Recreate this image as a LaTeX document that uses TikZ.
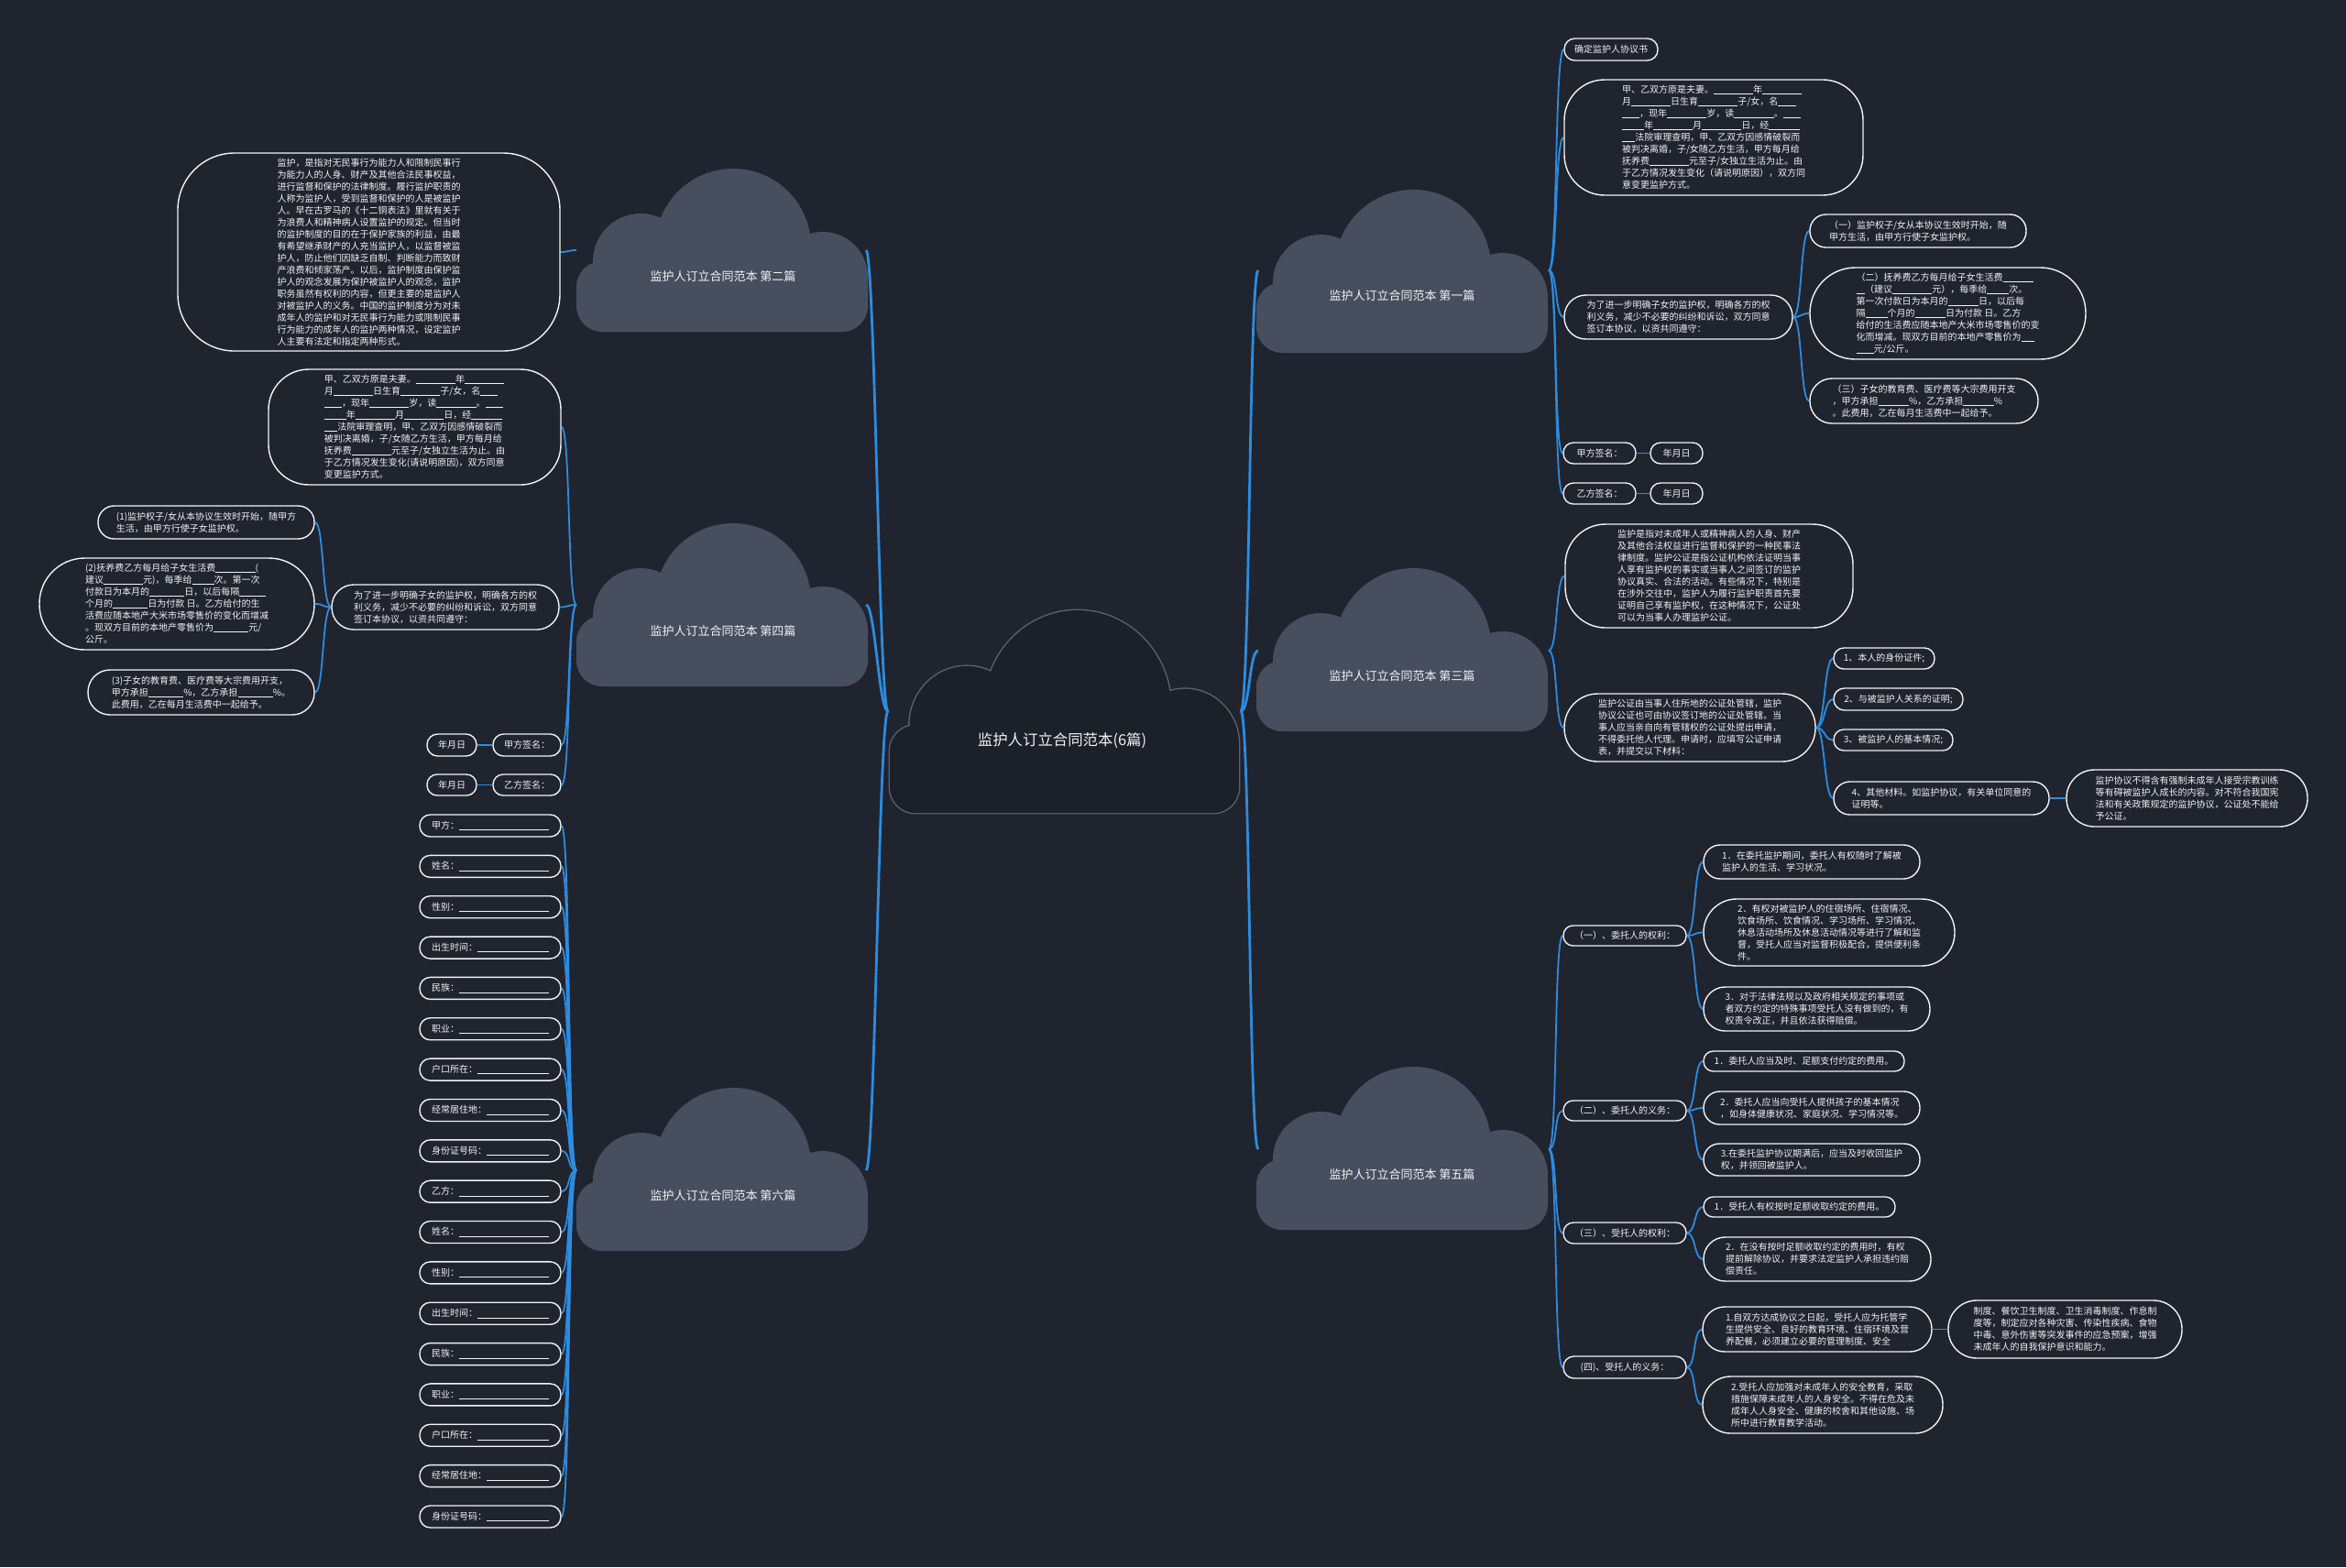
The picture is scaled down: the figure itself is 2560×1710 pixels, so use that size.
\documentclass[tikz,border=0pt]{standalone}
\usepackage{fontspec}
\setmainfont{Noto Sans CJK SC}
\usetikzlibrary{calc}
\definecolor{bgc}{HTML}{20242F}
\definecolor{cloudc}{HTML}{474F5F}
\definecolor{lnc}{HTML}{2C8CE0}
\definecolor{cout}{HTML}{5A6272}
\definecolor{cfill}{HTML}{1C2029}
\definecolor{txc}{HTML}{F2F2F2}
\pgfdeclarelayer{bgl}\pgfdeclarelayer{lnl}\pgfsetlayers{bgl,lnl,main}
\newcommand\ublank[1]{\rule[-0.12em]{\dimexpr0.48em*#1\relax}{0.07em}}
\newcommand\ufill{\leaders\hrule height -0.5pt depth 0.85pt\hfill\kern0pt}
\newcommand\fs{\fontsize{5}{6.5}\selectfont}
\newcommand\bnode[7][]{\node[bx,minimum width={(#5-#3)*0.5pt},minimum height={(#6-#4)*0.5pt},rounded corners={min((#6-#4)/2-0.5,62)*0.5pt},#1] (#2) at ({(#3+#5)/2},{(#4+#6)/2}) {#7};}
\newcommand\cloudpath[1]{%
  \path[#1] (171,85) circle[radius=85];
  \path[#1] (70,101) circle[radius=52];
  \path[#1] (269,118) circle[radius=49];
  \path[#1,rounded corners=14pt] (0,101) rectangle (318,178);}
\newcommand\rcon[2]{\draw[lk] (#1) .. controls +(10,0) and +(-10,0) .. (#2);}
\newcommand\lcon[2]{\draw[lk] (#1) .. controls +(-10,0) and +(10,0) .. (#2);}
\newcommand\rtrunk[2]{\draw[lkt] (#1) .. controls +(10,0) and +(-10,0) .. (#2);}
\newcommand\ltrunk[2]{\draw[lkt] (#1) .. controls +(-10,0) and +(10,0) .. (#2);}
\tikzset{
  bx/.style={draw=txc,line width=0.7pt,fill=bgc,text=txc,font=\fs,inner sep=0pt,align=left},
  lk/.style={draw=lnc,line width=0.9pt},
  lkt/.style={draw=lnc,line width=1.4pt},
  clab/.style={text=txc,font=\fontsize{6.5}{7}\selectfont,inner sep=0pt}
}
\begin{document}
\begin{tikzpicture}[x=0.5pt,y=-0.5pt]
\begin{pgfonlayer}{bgl}
\fill[bgc] (0,0) rectangle (2560,1710);
\end{pgfonlayer}
\path[use as bounding box] (0,0) rectangle (2560,1710);

% ---------- clouds ----------
\begin{scope}[shift={(971,666)},xscale=1.198,yscale=1.242]
\cloudpath{draw=cout,line width=1.4pt}
\cloudpath{fill=cfill}
\end{scope}
\node[text=txc,font=\fontsize{8.2}{9}\selectfont,inner sep=0pt] (title) at (1159,808) {监护人订立合同范本(6篇)};

\foreach \cx/\cy in {629/184,629/571,629/1187,1371/207,1371/620,1371/1164}{
  \begin{scope}[shift={(\cx,\cy)}]
  \cloudpath{fill=cloudc}
  \end{scope}}
\node[clab] (t2) at (789,302) {监护人订立合同范本 第二篇};
\node[clab] (t4) at (789,689) {监护人订立合同范本 第四篇};
\node[clab] (t6) at (789,1305) {监护人订立合同范本 第六篇};
\node[clab] (t1) at (1530,323) {监护人订立合同范本 第一篇};
\node[clab] (t3) at (1530,738) {监护人订立合同范本 第三篇};
\node[clab] (t5) at (1530,1282) {监护人订立合同范本 第五篇};

\coordinate (cL) at (969,776); \coordinate (cR) at (1354,776);
\coordinate (k2R) at (945,273); \coordinate (k2L) at (629,273);
\coordinate (k4R) at (945,660); \coordinate (k4L) at (629,660);
\coordinate (k6R) at (945,1277); \coordinate (k6L) at (629,1277);
\coordinate (k1L) at (1373,295); \coordinate (k1R) at (1690,295);
\coordinate (k3L) at (1373,710); \coordinate (k3R) at (1690,710);
\coordinate (k5L) at (1373,1254); \coordinate (k5R) at (1690,1254);

% ---------- left: 第二篇 ----------
\bnode{L2a}{194}{167}{611}{383}{监护，是指对无民事行为能力人和限制民事行\\为能力人的人身、财产及其他合法民事权益，\\进行监督和保护的法律制度。履行监护职责的\\人称为监护人，受到监督和保护的人是被监护\\人。早在古罗马的《十二铜表法》里就有关于\\为浪费人和精神病人设置监护的规定。但当时\\的监护制度的目的在于保护家族的利益，由最\\有希望继承财产的人充当监护人，以监督被监\\护人，防止他们因缺乏自制、判断能力而致财\\产浪费和倾家荡产。以后，监护制度由保护监\\护人的观念发展为保护被监护人的观念，监护\\职务虽然有权利的内容，但更主要的是监护人\\对被监护人的义务。中国的监护制度分为对未\\成年人的监护和对无民事行为能力或限制民事\\行为能力的成年人的监护两种情况，设定监护\\人主要有法定和指定两种形式。}

% ---------- left: 第四篇 ----------
\bnode[rounded corners=22pt]{L4a}{293}{403}{612}{529}{甲、乙双方原是夫妻。\ublank{9}年\ublank{9}\\月\ublank{9}日生育\ublank{9}子/女，名\ublank{4}\\\ublank{4}，现年\ublank{9}岁，读\ublank{9}。\ublank{4}\\\ublank{5}年\ublank{9}月\ublank{9}日，经\ublank{7}\\\ublank{3}法院审理查明，甲、乙双方因感情破裂而\\被判决离婚，子/女随乙方生活，甲方每月给\\抚养费\ublank{9}元至子/女独立生活为止。由\\于乙方情况发生变化(请说明原因)，双方同意\\变更监护方式。}
\bnode{L4b}{362}{638}{610}{687}{为了进一步明确子女的监护权，明确各方的权\\利义务，减少不必要的纠纷和诉讼，双方同意\\签订本协议，以资共同遵守：}
\bnode{L4b1}{107}{552}{343}{588}{(1)监护权子/女从本协议生效时开始，随甲方\\生活，由甲方行使子女监护权。}
\bnode{L4b2}{43}{609}{343}{709}{(2)抚养费乙方每月给子女生活费\ublank{9}(\\建议\ublank{9}元)，每季给\ublank{5}次。第一次\\付款日为本月的\ublank{8}日，以后每隔\ublank{6}\\个月的\ublank{8}日为付款 日。乙方给付的生\\活费应随本地产大米市场零售价的变化而增减\\。现双方目前的本地产零售价为\ublank{8}元/\\公斤。}
\bnode{L4b3}{96}{731}{343}{780}{(3)子女的教育费、医疗费等大宗费用开支，\\甲方承担\ublank{8}\%，乙方承担\ublank{8}\%。\\此费用，乙在每月生活费中一起给予。}
\bnode{L4c}{538}{801}{612}{825}{甲方签名：}
\bnode{L4c1}{466}{801}{520}{825}{年月日}
\bnode{L4d}{538}{845}{612}{868}{乙方签名：}
\bnode{L4d1}{466}{845}{520}{868}{年月日}

% ---------- left: 第六篇 ----------
\foreach \t [count=\i from 0] in {甲方,姓名,性别,出生时间,民族,职业,户口所在,经常居住地,身份证号码,乙方,姓名,性别,出生时间,民族,职业,户口所在,经常居住地,身份证号码}{
  \pgfmathsetmacro\yc{901+44.35*\i}
  \node[bx,minimum width=77pt,minimum height=12pt,rounded corners=5.75pt] (L6i\i) at (535,\yc) {\makebox[64pt][l]{\t：\ufill}};
}

% ---------- right: 第一篇 ----------
\bnode{R1a}{1707}{42}{1809}{66}{确定监护人协议书}
\bnode[rounded corners=22pt]{R1b}{1707}{87}{2033}{213}{甲、乙双方原是夫妻。\ublank{9}年\ublank{9}\\月\ublank{9}日生育\ublank{9}子/女，名\ublank{4}\\\ublank{4}，现年\ublank{9}岁，读\ublank{9}。\ublank{4}\\\ublank{5}年\ublank{9}月\ublank{9}日，经\ublank{7}\\\ublank{3}法院审理查明，甲、乙双方因感情破裂而\\被判决离婚，子/女随乙方生活，甲方每月给\\抚养费\ublank{9}元至子/女独立生活为止。由\\于乙方情况发生变化（请说明原因），双方同\\意变更监护方式。}
\bnode{R1c}{1707}{322}{1956}{370}{为了进一步明确子女的监护权，明确各方的权\\利义务，减少不必要的纠纷和诉讼，双方同意\\签订本协议，以资共同遵守：}
\bnode{R1c1}{1975}{234}{2211}{270}{（一）监护权子/女从本协议生效时开始，随\\甲方生活，由甲方行使子女监护权。}
\bnode{R1c2}{1975}{292}{2276}{392}{（二）抚养费乙方每月给子女生活费\ublank{7}\\\ublank{2}（建议\ublank{9}元），每季给\ublank{5}次。\\第一次付款日为本月的\ublank{7}日，以后每\\隔\ublank{5}个月的\ublank{7}日为付款 日。乙方\\给付的生活费应随本地产大米市场零售价的变\\化而增减。现双方目前的本地产零售价为\ublank{3}\\\ublank{4}元/公斤。}
\bnode{R1c3}{1975}{413}{2224}{462}{（三）子女的教育费、医疗费等大宗费用开支\\，甲方承担\ublank{7}\%，乙方承担\ublank{7}\%\\。此费用，乙在每月生活费中一起给予。}
\bnode{R1d}{1706}{483}{1785}{506}{甲方签名：}
\bnode{R1d1}{1801}{483}{1858}{506}{年月日}
\bnode{R1e}{1706}{527}{1785}{550}{乙方签名：}
\bnode{R1e1}{1801}{527}{1858}{550}{年月日}

% ---------- right: 第三篇 ----------
\bnode[rounded corners=22pt]{R3a}{1708}{572}{2022}{685}{监护是指对未成年人或精神病人的人身、财产\\及其他合法权益进行监督和保护的一种民事法\\律制度。监护公证是指公证机构依法证明当事\\人享有监护权的事实或当事人之间签订的监护\\协议真实、合法的活动。有些情况下，特别是\\在涉外交往中，监护人为履行监护职责首先要\\证明自己享有监护权，在这种情况下，公证处\\可以为当事人办理监护公证。}
\bnode{R3b}{1707}{757}{1981}{831}{监护公证由当事人住所地的公证处管辖，监护\\协议公证也可由协议签订地的公证处管辖。当\\事人应当亲自向有管辖权的公证处提出申请，\\不得委托他人代理。申请时，应填写公证申请\\表，并提交以下材料：}
\bnode{R3b1}{2001}{707}{2111}{730}{1、本人的身份证件;}
\bnode{R3b2}{2001}{751}{2142}{775}{2、与被监护人关系的证明;}
\bnode{R3b3}{2001}{796}{2131}{819}{3、被监护人的基本情况;}
\bnode{R3b4}{2001}{853}{2236}{889}{4、其他材料。如监护协议，有关单位同意的\\证明等。}
\bnode{R3b4a}{2255}{840}{2518}{902}{监护协议不得含有强制未成年人接受宗教训练\\等有碍被监护人成长的内容。对不符合我国宪\\法和有关政策规定的监护协议，公证处不能给\\予公证。}

% ---------- right: 第五篇 ----------
\bnode{R5a}{1706}{1010}{1840}{1032}{（一）、委托人的权利：}
\bnode{R5a1}{1859}{922}{2095}{959}{1．在委托监护期间，委托人有权随时了解被\\监护人的生活、学习状况。}
\bnode{R5a2}{1859}{981}{2133}{1054}{2．有权对被监护人的住宿场所、住宿情况、\\饮食场所、饮食情况、学习场所、学习情况、\\休息活动场所及休息活动情况等进行了解和监\\督，受托人应当对监督积极配合，提供便利条\\件。}
\bnode{R5a3}{1859}{1077}{2106}{1125}{3．对于法律法规以及政府相关规定的事项或\\者双方约定的特殊事项受托人没有做到的，有\\权责令改正，并且依法获得赔偿。}
\bnode{R5b}{1706}{1201}{1840}{1223}{（二）、委托人的义务：}
\bnode{R5b1}{1859}{1147}{2078}{1169}{1．委托人应当及时、足额支付约定的费用。}
\bnode{R5b2}{1859}{1191}{2095}{1227}{2．委托人应当向受托人提供孩子的基本情况\\，如身体健康状况、家庭状况、学习情况等。}
\bnode{R5b3}{1859}{1248}{2095}{1283}{3.在委托监护协议期满后，应当及时收回监护\\权，并领回被监护人。}
\bnode{R5c}{1706}{1334}{1840}{1357}{（三）、受托人的权利：}
\bnode{R5c1}{1859}{1306}{2068}{1328}{1．受托人有权按时足额收取约定的费用。}
\bnode{R5c2}{1859}{1350}{2107}{1398}{2．在没有按时足额收取约定的费用时，有权\\提前解除协议，并要求法定监护人承担违约赔\\偿责任。}
\bnode{R5d}{1706}{1480}{1840}{1504}{(四)、受托人的义务：}
\bnode{R5d1}{1858}{1426}{2108}{1475}{1.自双方达成协议之日起，受托人应为托管学\\生提供安全、良好的教育环境、住宿环境及营\\养配餐，必须建立必要的管理制度、安全}
\bnode{R5d1a}{2126}{1419}{2381}{1482}{制度、餐饮卫生制度、卫生消毒制度、作息制\\度等，制定应对各种灾害、传染性疾病、食物\\中毒、意外伤害等突发事件的应急预案，增强\\未成年人的自我保护意识和能力。}
\bnode{R5d2}{1858}{1502}{2120}{1564}{2.受托人应加强对未成年人的安全教育，采取\\措施保障未成年人的人身安全。不得在危及未\\成年人人身安全、健康的校舍和其他设施、场\\所中进行教育教学活动。}

% ---------- connectors ----------
\begin{pgfonlayer}{lnl}
\ltrunk{cL}{k2R} \ltrunk{cL}{k4R} \ltrunk{cL}{k6R}
\rtrunk{cR}{k1L} \rtrunk{cR}{k3L} \rtrunk{cR}{k5L}
\lcon{k2L}{L2a.east}
\lcon{k4L}{L4a.east} \lcon{k4L}{L4b.east} \lcon{k4L}{L4c.east} \lcon{k4L}{L4d.east}
\lcon{L4b.west}{L4b1.east} \lcon{L4b.west}{L4b2.east} \lcon{L4b.west}{L4b3.east}
\draw[lk] (L4c.west) -- (L4c1.east);
\draw[lk] (L4d.west) -- (L4d1.east);
\foreach \i in {0,...,17}{\lcon{k6L}{L6i\i.east}}
\rcon{k1R}{R1a.west} \rcon{k1R}{R1b.west} \rcon{k1R}{R1c.west} \rcon{k1R}{R1d.west} \rcon{k1R}{R1e.west}
\rcon{R1c.east}{R1c1.west} \rcon{R1c.east}{R1c2.west} \rcon{R1c.east}{R1c3.west}
\draw[lk] (R1d.east) -- (R1d1.west);
\draw[lk] (R1e.east) -- (R1e1.west);
\rcon{k3R}{R3a.west} \rcon{k3R}{R3b.west}
\rcon{R3b.east}{R3b1.west} \rcon{R3b.east}{R3b2.west} \rcon{R3b.east}{R3b3.west} \rcon{R3b.east}{R3b4.west}
\draw[lk] (R3b4.east) -- (R3b4a.west);
\rcon{k5R}{R5a.west} \rcon{k5R}{R5b.west} \rcon{k5R}{R5c.west} \rcon{k5R}{R5d.west}
\rcon{R5a.east}{R5a1.west} \rcon{R5a.east}{R5a2.west} \rcon{R5a.east}{R5a3.west}
\rcon{R5b.east}{R5b1.west} \rcon{R5b.east}{R5b2.west} \rcon{R5b.east}{R5b3.west}
\rcon{R5c.east}{R5c1.west} \rcon{R5c.east}{R5c2.west}
\rcon{R5d.east}{R5d1.west} \rcon{R5d.east}{R5d2.west}
\draw[lk] (R5d1.east) -- (R5d1a.west);
\end{pgfonlayer}
\end{tikzpicture}
\end{document}
